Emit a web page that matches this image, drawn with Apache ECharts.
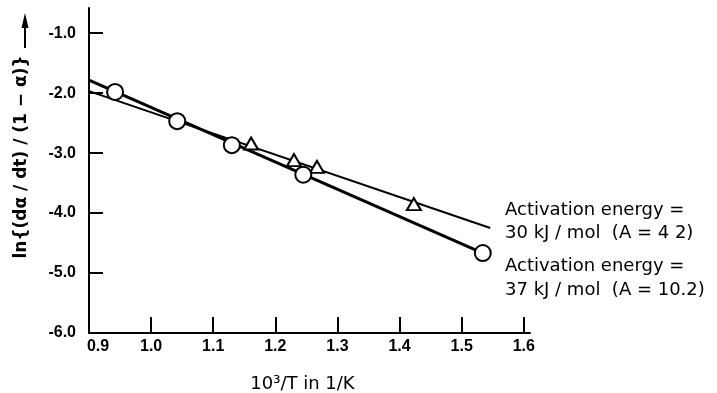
<!DOCTYPE html>
<html>
<head>
<meta charset="utf-8">
<script src="https://cdn.jsdelivr.net/npm/echarts@6/dist/echarts.min.js"></script>
<style>
  html, body { margin: 0; padding: 0; background: #fff; }
  #chart { width: 717px; height: 393px; }
</style>
</head>
<body>
<div id="chart"></div>
<script>
// Reciprocal temperature, 10^3/T (1/K), and ln{(dα/dt)/(1 − α)}
var circleX = [0.942, 1.042, 1.130, 1.245, 1.534];
var circleY = [-1.98, -2.467, -2.867, -3.36, -4.667];
var triangleX = [1.161, 1.230, 1.267, 1.423];
var triangleY = [-2.84, -3.117, -3.23, -3.85];

// Arrhenius fit lines (start / end points)
var fit37X = [0.9, 1.534];
var fit37Y = [-1.783, -4.667];
var fit30X = [0.9, 1.546];
var fit30Y = [-1.967, -4.25];

// Tick values
var xTicks = [0.9, 1.0, 1.1, 1.2, 1.3, 1.4, 1.5, 1.6];
var yTicks = [-6, -5, -4, -3, -2, -1];

function pairs(xs, ys) {
  return xs.map(function (x, i) { return [x, ys[i]]; });
}

var chart = echarts.init(document.getElementById('chart'), null, { renderer: 'canvas' });

var labelFont = { fontFamily: 'Liberation Sans', fontWeight: 'bold', fontSize: 16, color: '#000' };

chart.setOption({
  animation: false,
  backgroundColor: '#fff',
  grid: { left: 89, top: 8, right: 187, bottom: 60, outerBoundsMode: 'none', containLabel: false },
  xAxis: {
    type: 'value',
    min: 0.9,
    max: 1.61,
    interval: 0.1,
    splitLine: { show: false },
    axisLine: { show: true, onZero: false, lineStyle: { color: '#000', width: 2 } },
    axisTick: { show: true, inside: true, length: 16, customValues: xTicks, lineStyle: { color: '#000', width: 2 } },
    axisLabel: {
      customValues: xTicks,
      margin: 6,
      fontFamily: labelFont.fontFamily,
      fontWeight: labelFont.fontWeight,
      fontSize: labelFont.fontSize,
      color: labelFont.color,
      formatter: function (v) {
        var s = v.toFixed(1);
        return Math.abs(v - 0.9) < 1e-6 ? '{first|' + s + '}' : s;
      },
      rich: {
        first: {
          padding: [0, 0, 0, 18],
          fontFamily: labelFont.fontFamily,
          fontWeight: labelFont.fontWeight,
          fontSize: labelFont.fontSize,
          color: labelFont.color
        }
      }
    },
    name: '10\u00B3/T in 1/K',
    nameLocation: 'middle',
    nameGap: 42,
    nameTextStyle: { fontFamily: 'DejaVu Sans', fontSize: 18, color: '#000', padding: [0, 14, 0, 0] }
  },
  yAxis: {
    type: 'value',
    min: -6,
    max: -0.58,
    interval: 1,
    splitLine: { show: false },
    axisLine: { show: true, onZero: false, lineStyle: { color: '#000', width: 2 } },
    axisTick: { show: true, inside: true, length: 14, customValues: yTicks, lineStyle: { color: '#000', width: 2 } },
    axisLabel: {
      customValues: yTicks,
      margin: 13,
      fontFamily: labelFont.fontFamily,
      fontWeight: labelFont.fontWeight,
      fontSize: labelFont.fontSize,
      color: labelFont.color,
      formatter: function (v) { return v.toFixed(1); }
    }
  },
  series: [
    {
      name: 'fit 37 kJ/mol',
      type: 'line',
      data: pairs(fit37X, fit37Y),
      symbol: 'none',
      lineStyle: { color: '#000', width: 3 },
      z: 2
    },
    {
      name: 'fit 30 kJ/mol',
      type: 'line',
      data: pairs(fit30X, fit30Y),
      symbol: 'none',
      lineStyle: { color: '#000', width: 2 },
      z: 2
    },
    {
      name: '37 kJ/mol',
      type: 'scatter',
      data: pairs(circleX, circleY),
      symbol: 'circle',
      symbolSize: 16,
      itemStyle: { color: '#fff', borderColor: '#000', borderWidth: 2, opacity: 1 },
      z: 4
    },
    {
      name: '30 kJ/mol',
      type: 'scatter',
      data: pairs(triangleX, triangleY),
      symbol: 'triangle',
      symbolSize: [14, 12],
      itemStyle: { color: '#fff', borderColor: '#000', borderWidth: 2, opacity: 1 },
      z: 3
    }
  ],
  graphic: [
    // y-axis title, read upward, followed by an arrow
    {
      type: 'text',
      x: 22,
      y: 157,
      rotation: Math.PI / 2,
      style: {
        text: 'ln{(d\u03B1 / dt) / (1 \u2212 \u03B1)}',
        fontFamily: 'DejaVu Sans',
        fontWeight: 'bold',
        fontSize: 17,
        fill: '#000',
        align: 'center',
        verticalAlign: 'middle'
      }
    },
    {
      type: 'line',
      shape: { x1: 25, y1: 48, x2: 25, y2: 24 },
      style: { stroke: '#000', lineWidth: 2 }
    },
    {
      type: 'polygon',
      shape: { points: [[25, 13], [21.5, 28], [28.5, 28]] },
      style: { fill: '#000' }
    },
    // annotations for the two fits
    {
      type: 'group',
      left: 505,
      top: 201,
      children: [
        { type: 'text', x: 0, y: 0, style: { text: 'Activation energy =', fontFamily: 'DejaVu Sans', fontSize: 18, fill: '#000' } },
        { type: 'text', x: 0, y: 23, style: { text: '30 kJ / mol  (A = 4 2)', fontFamily: 'DejaVu Sans', fontSize: 18, fill: '#000' } },
        { type: 'text', x: 0, y: 56, style: { text: 'Activation energy =', fontFamily: 'DejaVu Sans', fontSize: 18, fill: '#000' } },
        { type: 'text', x: 0, y: 80, style: { text: '37 kJ / mol  (A = 10.2)', fontFamily: 'DejaVu Sans', fontSize: 18, fill: '#000' } }
      ]
    }
  ]
});
</script>
</body>
</html>
